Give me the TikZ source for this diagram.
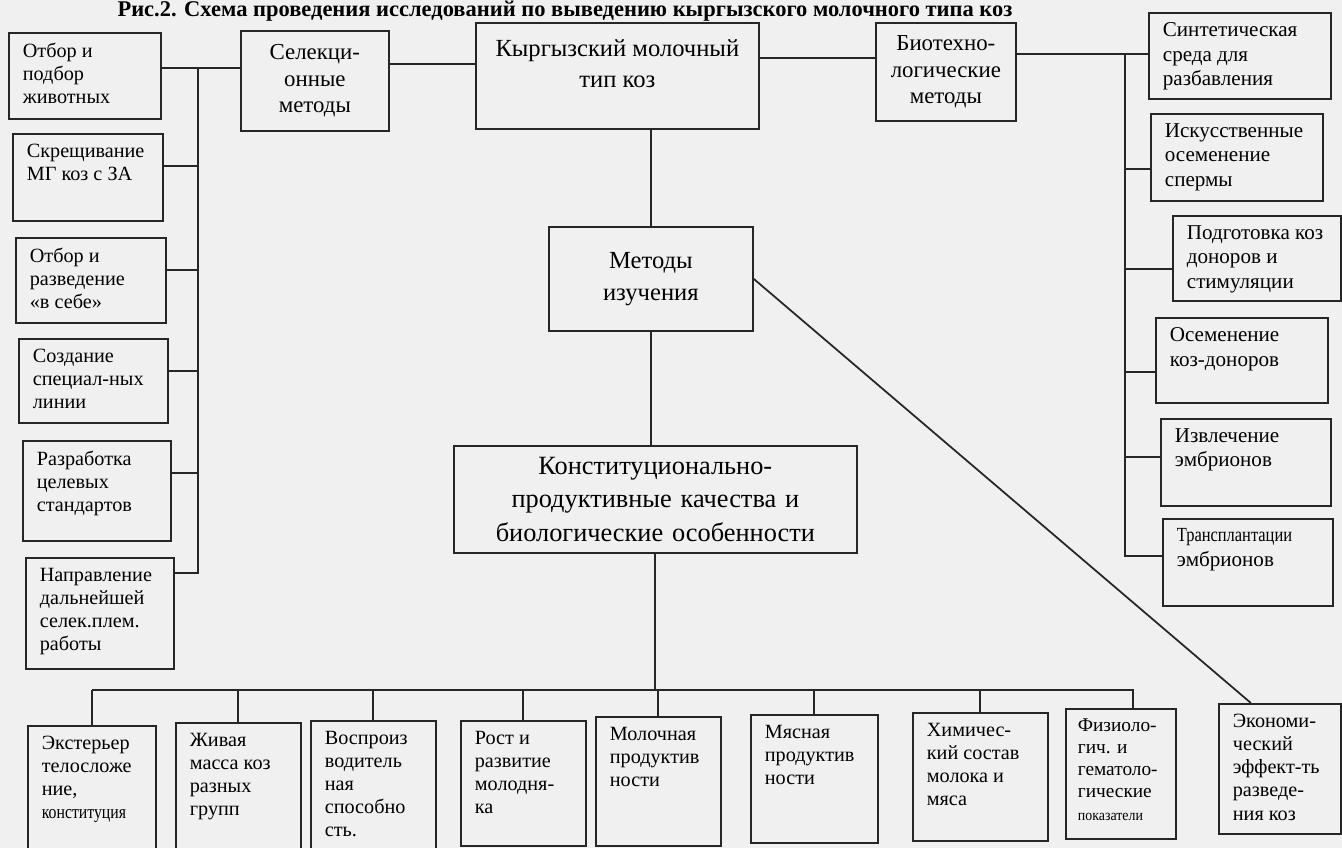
\documentclass[tikz,border=0pt]{standalone}
\usepackage{fontspec}
\setmainfont{Liberation Serif}
\usepackage{graphicx}

\newcommand{\cell}[4][\raggedright]{\parbox[t][#3][t]{#2}{#1#4}}
\newcommand{\squeeze}[1]{\scalebox{0.78}[0.95]{#1}}

\tikzset{
	box/.style={draw=black!85, line width=1pt, anchor=north west, inner xsep=0.28cm, inner ysep=0.2cm, font=\fontsize{11.5}{13.2}\selectfont},
	rbox/.style={box, font=\fontsize{12}{13.8}\selectfont},
	midbox/.style={draw=black!85, line width=1pt, anchor=north west, inner sep=0pt, align=center, font=\fontsize{13}{15}\selectfont},
	bigbox/.style={midbox, font=\fontsize{15}{19}\selectfont},
	link/.style={draw=black!85, line width=1pt},
}

\begin{document}
\begin{tikzpicture}[x=0.02cm,y=-0.02cm]
	\useasboundingbox (0,0) rectangle (1342,848);
	\fill [black!6] (0,0) rectangle (1342,848);

	\node [font=\fontsize{12.8}{14}\selectfont\bfseries] (title) at (565,11) {Рис.2. Схема проведения исследований по выведению кыргызского молочного типа коз};

	%% Central column
	\node [box, inner ysep=0.34cm, font=\fontsize{14}{17.5}\selectfont] (kgz) at (475,22) {\cell[\centering]{5.1cm}{1.44cm}{Кыргызский молочный\\тип коз}};
	\node [midbox, text width=4.08cm, minimum height=2.08cm, font=\fontsize{14}{18}\selectfont] (metod) at (548,226) {Методы\\изучения};
	\node [bigbox, text width=8.06cm, minimum height=2.14cm] (konst) at (453,445) {Конституционально-\\продуктивные качества и\\биологические особенности};

	%% Methods
	\node [midbox, text width=2.96cm, minimum height=2cm] (selek) at (240,30) {Селекци-\\онные\\методы};
	\node [midbox, text width=2.8cm, minimum height=1.96cm] (biot) at (875,22) {Биотехно-\\логические\\методы};

	%% Left column
	\node [box] (otbor) at (8,32) {\cell{2.48cm}{1.32cm}{Отбор и\\подбор\\животных}};
	\node [box] (skr) at (12,133) {\cell{2.44cm}{1.34cm}{Скрещивание\\МГ коз с ЗА}};
	\node [box] (razv) at (15,237) {\cell{2.44cm}{1.3cm}{Отбор и\\разведение\\«в себе»}};
	\node [box] (sozd) at (18,338) {\cell{2.42cm}{1.28cm}{Создание\\специал-ных\\линии}};
	\node [box] (razr) at (22,440) {\cell{2.4cm}{1.6cm}{Разработка\\целевых\\стандартов}};
	\node [box] (napr) at (25,557) {\cell{2.4cm}{1.82cm}{Направление\\дальнейшей\\селек.плем.\\работы}};

	%% Right column
	\node [rbox] (sint) at (1148,12) {\cell{3.08cm}{1.32cm}{Синтетическая\\среда для\\разбавления}};
	\node [rbox] (isk) at (1150,113) {\cell{2.88cm}{1.34cm}{Искусственные\\осеменение\\спермы}};
	\node [rbox] (podg) at (1172,215) {\cell{2.8cm}{1.3cm}{Подготовка коз\\доноров и\\стимуляции}};
	\node [rbox] (osem) at (1155,317) {\cell{2.88cm}{1.3cm}{Осеменение\\коз-доноров}};
	\node [rbox] (izvl) at (1160,418) {\cell{2.84cm}{1.34cm}{Извлечение\\эмбрионов}};
	\node [rbox] (trans) at (1162,518) {\cell{2.84cm}{1.34cm}{\squeeze{Трансплантации}\\эмбрионов}};

	%% Bottom row
	\node [box] (ext) at (27,725) {\cell{2cm}{2.16cm}{Экстерьер\\телосложе\\ние,\\\squeeze{конституция}}};
	\node [box] (zhiv) at (175,722) {\cell{1.94cm}{2.2cm}{Живая\\масса коз\\разных\\групп}};
	\node [box] (vosp) at (310,720) {\cell{1.94cm}{2.3cm}{Воспроиз\\водитель\\ная\\способно\\сть.}};
	\node [box] (rost) at (460,720) {\cell{1.94cm}{2.1cm}{Рост и\\развитие\\молодня-\\ка}};
	\node [box] (moloch) at (595,716) {\cell{1.94cm}{2.18cm}{Молочная\\продуктив\\ности}};
	\node [box] (myas) at (750,714) {\cell{1.98cm}{2.16cm}{Мясная\\продуктив\\ности}};
	\node [box] (khim) at (912,712) {\cell{2.14cm}{2.16cm}{Химичес-\\кий состав\\молока и\\мяса}};
	\node [box, inner xsep=0.24cm, font=\fontsize{11}{12.6}\selectfont] (fiz) at (1065,708) {\cell{1.72cm}{2.2cm}{Физиоло-\\гич. и\\гематоло-\\гические\\\scalebox{0.72}[0.8]{показатели}}};
	\node [box] (ekon) at (1218,703) {\cell{1.88cm}{2.2cm}{Экономи-\\ческий\\эффект-ть\\разведе-\\ния коз}};

	%% Bus points
	\coordinate (ltop) at (198,68);
	\coordinate (rtop) at (1125,53);
	\coordinate (bbus) at (655,690);

	%% Top chain
	\draw [link] (otbor.east |- ltop) -- (selek.west |- ltop);
	\draw [link] ([yshift=0.34cm]selek.east) coordinate (s) -- (s -| kgz.west);
	\draw [link] ([yshift=0.36cm]kgz.east) coordinate (s) -- (s -| biot.west);
	\draw [link] ([yshift=0.36cm]biot.east) coordinate (s) -- (s -| sint.west);

	%% Left bus
	\foreach \n in {skr,razv,sozd,razr}
		\draw [link] ([yshift=-0.66cm]\n.north east) coordinate (s) -- (s -| ltop);
	\draw [link] ([yshift=-0.32cm]napr.north east) coordinate (nstub) -- (nstub -| ltop) -- (ltop);

	%% Right bus
	\foreach \n/\dy in {isk/-0.23,podg/-0.21,osem/-0.23,izvl/0.11}
		\draw [link] ([yshift=\dy cm]\n.west) coordinate (s) -- (s -| rtop);
	\draw [link] ([yshift=0.12cm]trans.west) coordinate (tstub) -- (tstub -| rtop) -- (rtop);

	%% Centre line
	\draw [link] (metod.north |- kgz.south) -- (metod.north);
	\draw [link] (metod.south) -- (metod.south |- konst.north);
	\draw [link] (konst.south) -- (konst.south |- bbus);

	%% Bottom bus
	\foreach \n in {ext,zhiv,vosp,rost,moloch,myas,khim}
		\draw [link] (\n.north) -- (\n.north |- bbus);
	\draw [link] ([xshift=0.24cm]fiz.north) coordinate (fstub) -- (fstub |- bbus) -- (ext.north |- bbus);

	%% Diagonal
	\draw [link] (metod.east) -- ([xshift=-0.58cm]ekon.north);
\end{tikzpicture}
\end{document}
